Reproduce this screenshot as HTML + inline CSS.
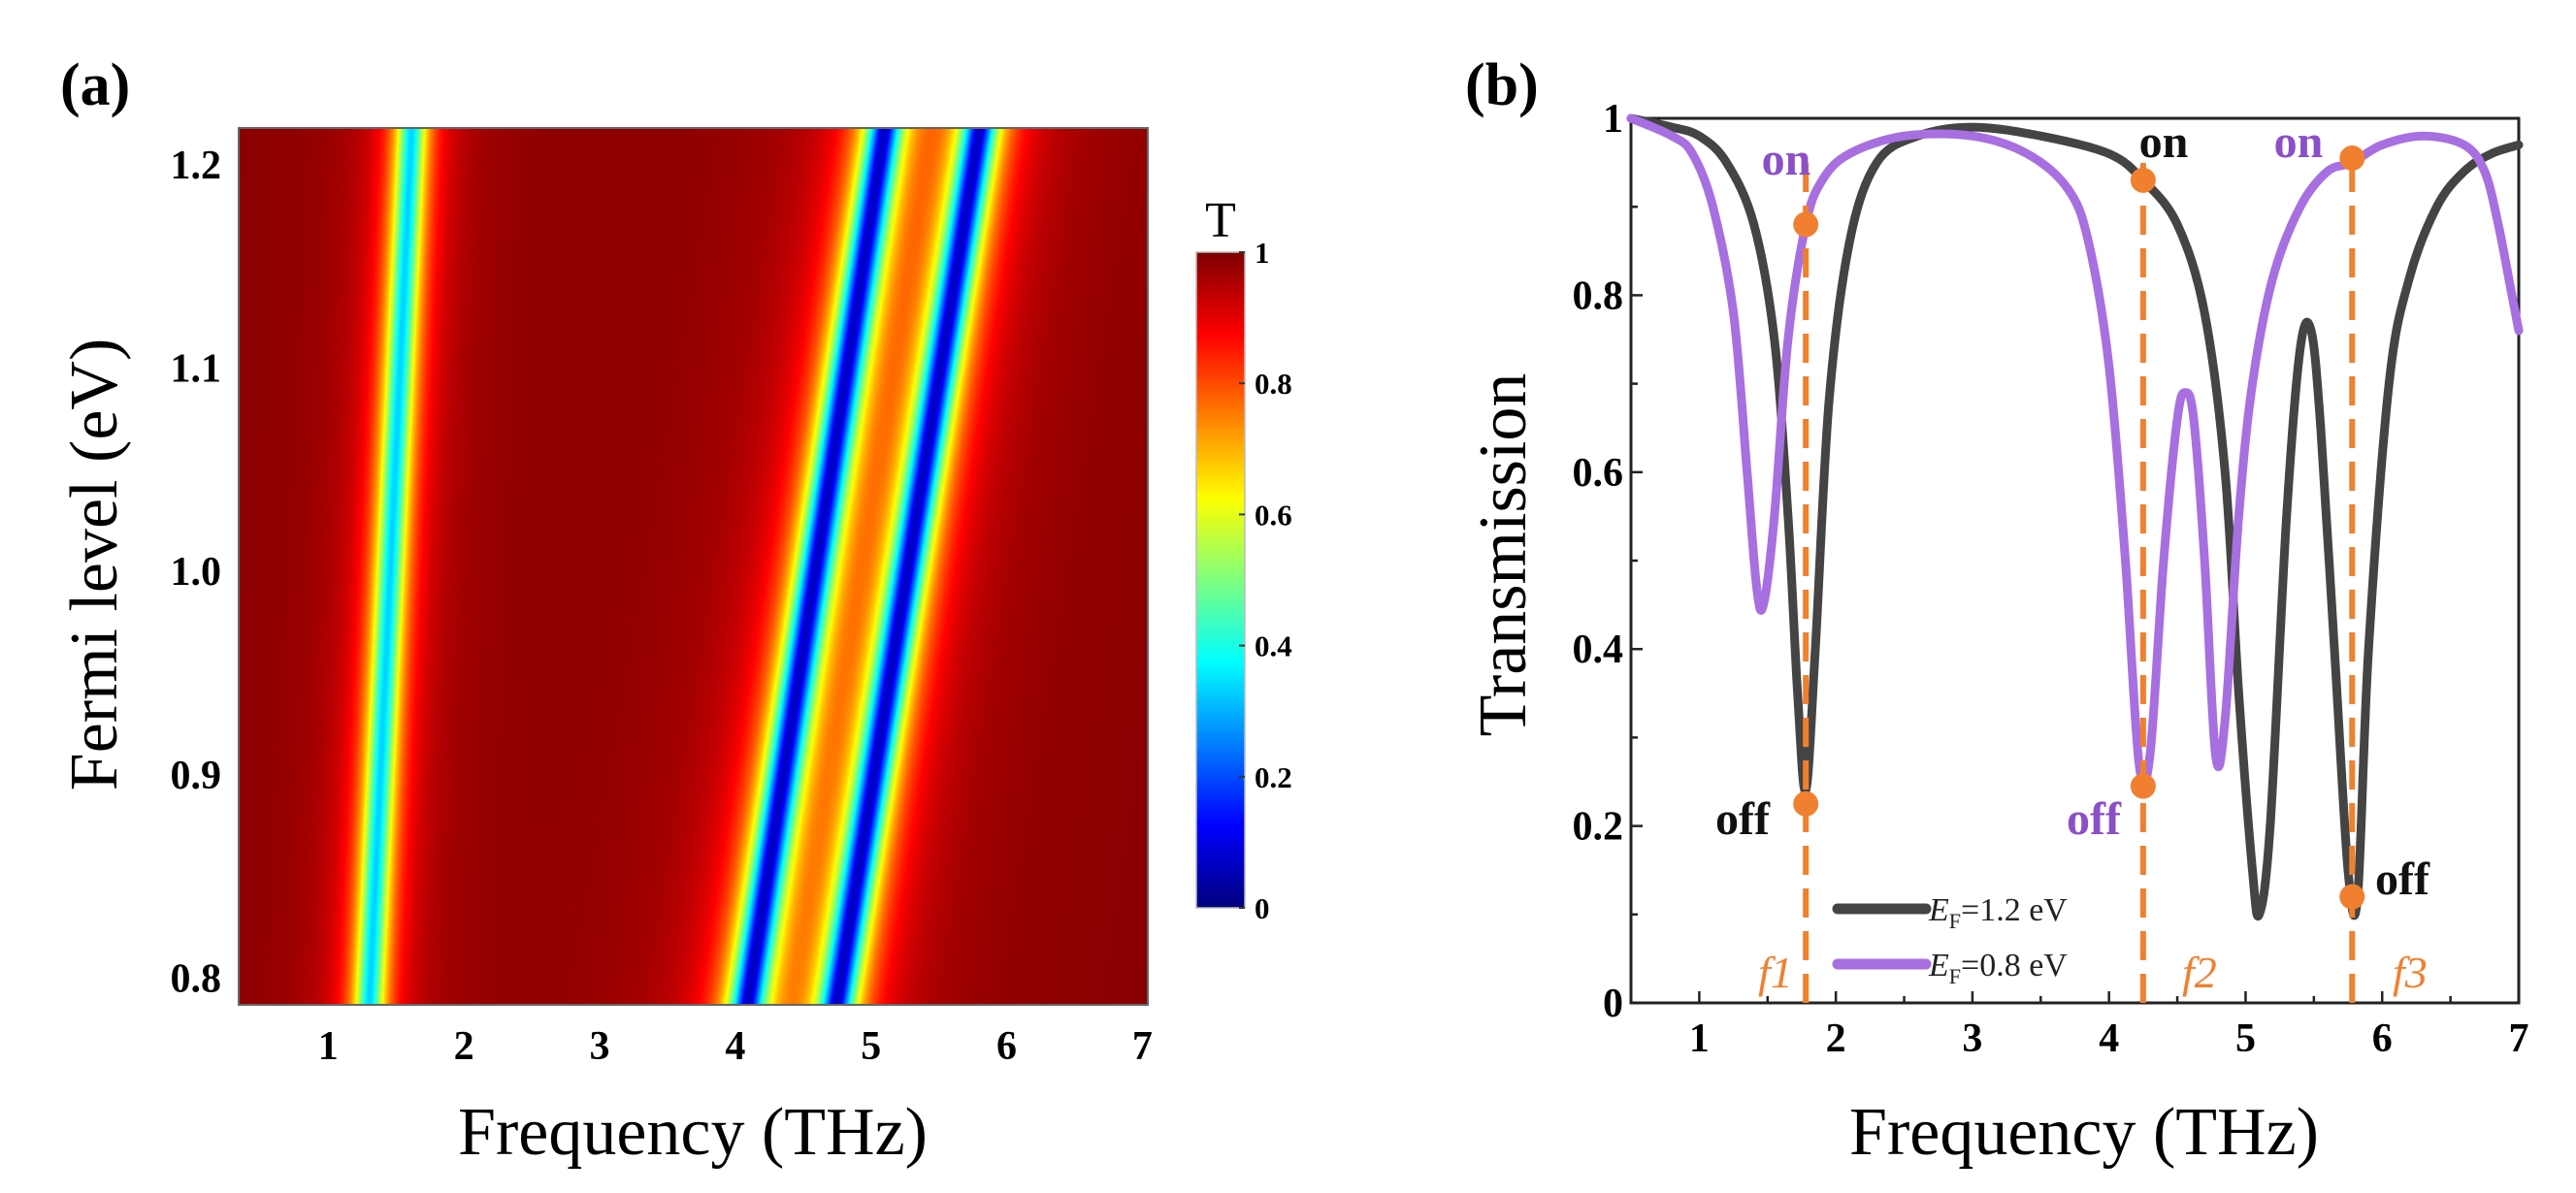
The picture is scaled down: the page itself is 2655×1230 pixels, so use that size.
<!DOCTYPE html>
<html><head><meta charset="utf-8">
<style>
html,body{margin:0;padding:0;background:#fff;}
svg{display:block;font-family:"Liberation Serif",serif;}
</style></head>
<body>
<div style="position:relative;width:2655px;height:1230px;">
<canvas id="hm" width="937" height="904" style="position:absolute;left:246px;top:132px;"></canvas>
<canvas id="cb" width="50" height="676" style="position:absolute;left:1233px;top:260px;"></canvas>
<svg id="svg" width="2655" height="1230" style="position:absolute;left:0;top:0;"></svg>
</div>
<script>
// ---- Panel (a) data ----
const efLevels = [0.8, 1.2];
const dip1Centers = [1.31, 1.60];
const dip2Centers = [4.12, 5.06];
const dip3Centers = [4.78, 5.76];
const dipDepths = [0.66, 0.9, 0.9];
const dipWidths = [0.11, 0.13, 0.13];
const hmXTicks = [1,2,3,4,5,6,7];
const hmYTicks = ["0.8","0.9","1.0","1.1","1.2"];
const cbTicks = ["0","0.2","0.4","0.6","0.8","1"];

// ---- Panel (b) data ----
const freqBlack = [0.5,0.8,1.0,1.2,1.4,1.55,1.65,1.72,1.78,1.85,1.95,2.1,2.3,2.6,3.0,3.5,4.0,4.25,4.5,4.7,4.85,4.95,5.05,5.1,5.18,5.3,5.4,5.48,5.55,5.65,5.75,5.82,5.9,6.05,6.2,6.4,6.6,6.8,7.0];
const transBlack = [1.0,0.99,0.98,0.95,0.88,0.75,0.55,0.35,0.24,0.4,0.68,0.86,0.95,0.98,0.99,0.98,0.96,0.93,0.88,0.78,0.6,0.35,0.15,0.1,0.2,0.55,0.74,0.76,0.65,0.4,0.15,0.12,0.4,0.7,0.82,0.9,0.94,0.96,0.97];
const freqPurple = [0.5,0.8,0.95,1.1,1.25,1.35,1.42,1.47,1.55,1.65,1.78,1.9,2.1,2.5,3.0,3.4,3.7,3.85,4.0,4.12,4.22,4.3,4.4,4.5,4.56,4.62,4.7,4.78,4.85,4.95,5.05,5.2,5.4,5.6,5.78,6.0,6.3,6.6,6.75,6.85,6.95,7.0];
const transPurple = [1.0,0.98,0.96,0.9,0.78,0.6,0.47,0.45,0.55,0.75,0.88,0.93,0.96,0.98,0.98,0.96,0.92,0.86,0.72,0.5,0.27,0.28,0.5,0.66,0.69,0.66,0.5,0.28,0.32,0.55,0.7,0.82,0.9,0.94,0.95,0.97,0.98,0.97,0.94,0.88,0.8,0.76];
const markerFreqs = [1.78,1.78,4.25,4.25,5.78,5.78];
const markerTrans = [0.88,0.225,0.93,0.245,0.955,0.12];
const bXTicks = [1,2,3,4,5,6,7];
const bYTicks = ["0","0.2","0.4","0.6","0.8","1"];

const NS="http://www.w3.org/2000/svg";
const svg=document.getElementById('svg');
function el(tag,attrs,parent){const e=document.createElementNS(NS,tag);for(const k in attrs)e.setAttribute(k,attrs[k]);(parent||svg).appendChild(e);return e;}
function txt(s,attrs){const t=el('text',attrs);t.textContent=s;return t;}

function jet(v){
  v=Math.max(0,Math.min(1,v));
  const r=Math.max(0,Math.min(1,1.5-Math.abs(4*v-3)));
  const g=Math.max(0,Math.min(1,1.5-Math.abs(4*v-2)));
  const b=Math.max(0,Math.min(1,1.5-Math.abs(4*v-1)));
  return [r*255|0,g*255|0,b*255|0];
}

const ax={x0:246,x1:1183,y0:132,y1:1036,fmin:0.34,fmax:7.04,emin:0.787,emax:1.218};
const hx=f=>ax.x0+(f-ax.fmin)/(ax.fmax-ax.fmin)*(ax.x1-ax.x0);
const hy=e=>ax.y1-(e-ax.emin)/(ax.emax-ax.emin)*(ax.y1-ax.y0);
function lerp(arr,e){const t=(e-efLevels[0])/(efLevels[1]-efLevels[0]);return arr[0]+(arr[1]-arr[0])*t;}
(function(){
  const c=document.getElementById('hm').getContext('2d');
  const W=937,H=904;const img=c.createImageData(W,H);
  for(let j=0;j<H;j++){
    const e=ax.emax-(j/(H-1))*(ax.emax-ax.emin);
    const cs=[lerp(dip1Centers,e),lerp(dip2Centers,e),lerp(dip3Centers,e)];
    for(let i=0;i<W;i++){
      const f=ax.fmin+(i/(W-1))*(ax.fmax-ax.fmin);
      let T=0.995;
      for(let k=0;k<3;k++){const d=f-cs[k],w=dipWidths[k];T-=dipDepths[k]*w*w/(d*d+w*w);}
      const [r,g,b]=jet(T);const p=(j*W+i)*4;
      img.data[p]=r;img.data[p+1]=g;img.data[p+2]=b;img.data[p+3]=255;
    }
  }
  c.putImageData(img,0,0);
  const cb=document.getElementById('cb').getContext('2d');
  for(let j=0;j<676;j++){const [r,g,b]=jet(1-j/675);cb.fillStyle=`rgb(${r},${g},${b})`;cb.fillRect(0,j,50,1);}
})();
let r=el('rect',{x:ax.x0,y:ax.y0,width:ax.x1-ax.x0,height:ax.y1-ax.y0,fill:'none',stroke:'#666','stroke-width':2});

hmXTicks.forEach(v=>{const t=txt(String(v),{x:hx(v),y:1092,'font-size':42,'font-weight':'bold','text-anchor':'middle'});
});
hmYTicks.forEach(v=>{const t=txt(v,{x:228,y:hy(parseFloat(v))+14,'font-size':42,'font-weight':'bold','text-anchor':'end'});
});
let t;
t=txt('Frequency (THz)',{x:714,y:1190,'font-size':70,'text-anchor':'middle'});

t=txt('Fermi level (eV)',{x:0,y:0,'font-size':70,'text-anchor':'middle',transform:'translate(120,582) rotate(-90)'});

t=txt('(a)',{x:62,y:108,'font-size':62,'font-weight':'bold'});

r=el('rect',{x:1233,y:260,width:50,height:676,fill:'none',stroke:'#bbb','stroke-width':1.5});

t=txt('T',{x:1258,y:244,'font-size':52,'text-anchor':'middle'});

cbTicks.forEach(v=>{const y=936-parseFloat(v)*676;
  const l=el('line',{x1:1277,x2:1283,y1:y,y2:y,stroke:'#333','stroke-width':2});
  
  const tt=txt(v,{x:1293,y:y+11,'font-size':31,'font-weight':'bold'});
  });

// Panel (b)
const bx={x0:1681,x1:2596,y0:122,y1:1034,fmin:0.5,fmax:7};
const X=f=>bx.x0+(f-bx.fmin)/(bx.fmax-bx.fmin)*(bx.x1-bx.x0);
const Y=v=>bx.y1-v*(bx.y1-bx.y0);
r=el('rect',{x:bx.x0,y:bx.y0,width:bx.x1-bx.x0,height:bx.y1-bx.y0,fill:'none',stroke:'#222','stroke-width':3});

for(let v=1;v<=7;v+=0.5){const x=X(v),L=(v%1===0)?12:7;
  const l=el('line',{x1:x,x2:x,y1:bx.y1,y2:bx.y1-L,stroke:'#222','stroke-width':2.5});
  }
for(let v=0.1;v<1;v+=0.1){const y=Y(v),L=(Math.round(v*10)%2===0)?12:7;
  const l=el('line',{x1:bx.x0,x2:bx.x0+L,y1:y,y2:y,stroke:'#222','stroke-width':2.5});
  }
bXTicks.forEach(v=>{const tt=txt(String(v),{x:X(v),y:1084,'font-size':42,'font-weight':'bold','text-anchor':'middle'});
  });
bYTicks.forEach(v=>{const tt=txt(v,{x:1673,y:Y(parseFloat(v))+14,'font-size':42,'font-weight':'bold','text-anchor':'end'});
  });
t=txt('Frequency (THz)',{x:2148,y:1190,'font-size':70,'text-anchor':'middle'});

t=txt('Transmission',{x:0,y:0,'font-size':70,'text-anchor':'middle',transform:'translate(1572,572) rotate(-90)'});

t=txt('(b)',{x:1510,y:108,'font-size':62,'font-weight':'bold'});


function path(fs,vs,color,name){
  const P=fs.map((f,i)=>[X(f),Y(vs[i])]);
  let d='M'+P[0][0].toFixed(1)+','+P[0][1].toFixed(1);
  for(let i=0;i<P.length-1;i++){
    const p0=P[Math.max(0,i-1)],p1=P[i],p2=P[i+1],p3=P[Math.min(P.length-1,i+2)];
    const c1=[p1[0]+(p2[0]-p0[0])/6,p1[1]+(p2[1]-p0[1])/6];
    const c2=[p2[0]-(p3[0]-p1[0])/6,p2[1]-(p3[1]-p1[1])/6];
    d+='C'+c1[0].toFixed(1)+','+c1[1].toFixed(1)+' '+c2[0].toFixed(1)+','+c2[1].toFixed(1)+' '+p2[0].toFixed(1)+','+p2[1].toFixed(1);
  }
  const p=el('path',{d:d,fill:'none',stroke:color,'stroke-width':9,'stroke-linejoin':'round','stroke-linecap':'round'});
  
}
path(freqBlack,transBlack,'#444','series-ef-1-2');
path(freqPurple,transPurple,'#a76fe0','series-ef-0-8');
[1.78,4.25,5.78].forEach(f=>{
  const l=el('line',{x1:X(f),x2:X(f),y1:bx.y1,y2:Y(0.95),stroke:'#f08030','stroke-width':6,'stroke-dasharray':'30,14'});
  });
markerFreqs.forEach((f,i)=>{const c=el('circle',{cx:X(f),cy:Y(markerTrans[i]),r:13,fill:'#f08030'});
  });
const labels=[['on',1841,180,'#8b4fc8'],['on',2230,162,'#111'],['on',2369,162,'#8b4fc8'],['off',1796,860,'#111'],['off',2158,860,'#8b4fc8'],['off',2476,922,'#111']];
labels.forEach(a=>{const tt=txt(a[0],{x:a[1],y:a[2],'font-size':48,'font-weight':'bold',fill:a[3],'text-anchor':'middle'});
  });
[['f','1',1812],['f','2',2249],['f','3',2466]].forEach(a=>{
  const tt=el('text',{x:a[2],y:1018,'font-size':46,'font-style':'italic',fill:'#f08030'});
  tt.textContent=a[0]+a[1];
  });
[['#444','1.2',937],['#a76fe0','0.8',994]].forEach(a=>{
  const l=el('line',{x1:1894,x2:1985,y1:a[2],y2:a[2],stroke:a[0],'stroke-width':11,'stroke-linecap':'round'});
  
  const tt=el('text',{x:1988,y:a[2]+12,'font-size':34,fill:'#222'});
  tt.innerHTML='<tspan font-style="italic">E</tspan><tspan font-size="22" dy="8">F</tspan><tspan dy="-8">='+a[1]+' eV</tspan>';
  });
</script>
</body></html>
